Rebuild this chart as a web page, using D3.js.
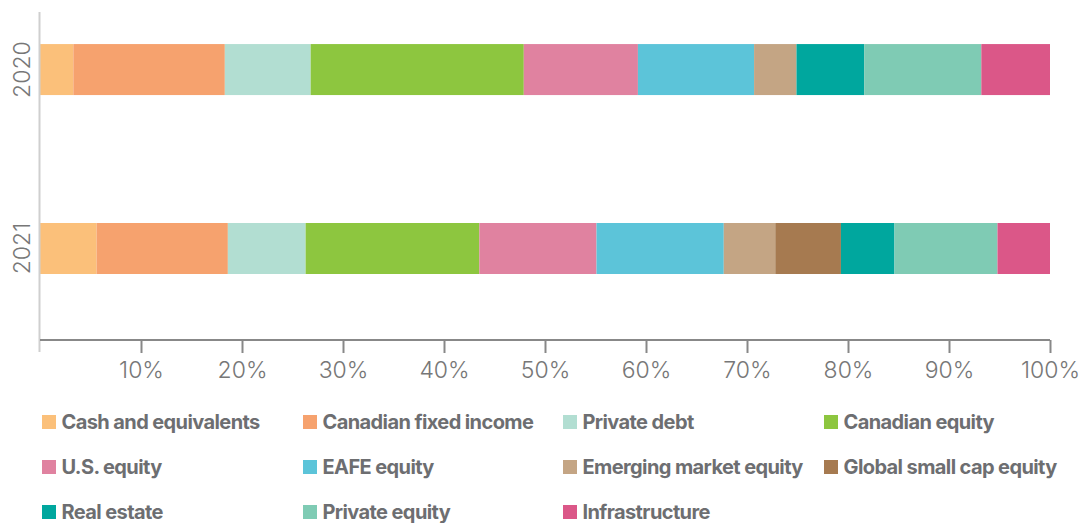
<!DOCTYPE html>
<html>
<head>
<meta charset="utf-8">
<script src="https://cdn.jsdelivr.net/npm/d3@7"></script>
<style>
  body { margin: 0; background: #fff; }
  svg { display: block; }
  .tick text { font-family: Inter, Roboto, sans-serif; font-weight: 300; }
</style>
</head>
<body>
<div id="chart"></div>
<script>
const years = ["2020", "2021"];
const assetClasses = ["Cash and equivalents", "Canadian fixed income", "Private debt", "Canadian equity",
  "U.S. equity", "EAFE equity", "Emerging market equity", "Global small cap equity",
  "Real estate", "Private equity", "Infrastructure"];
const values2020 = [3.3, 15.0, 8.5, 21.1, 11.3, 11.5, 4.2, 0, 6.7, 11.6, 6.8];
const values2021 = [5.6, 13.0, 7.7, 17.2, 11.6, 12.6, 5.1, 6.5, 5.3, 10.2, 5.2];
const colors = ["#fbc07a", "#f6a26e", "#b2ded2", "#8dc63f", "#e082a0", "#5cc4d9",
  "#c4a584", "#a67a50", "#00a79e", "#7fcbb4", "#db5788"];
const xTicks = [10, 20, 30, 40, 50, 60, 70, 80, 90, 100];

const width = 1086, height = 523;
const svg = d3.select("#chart").append("svg").attr("width", width).attr("height", height);

const x = d3.scaleLinear().domain([0, 100]).range([40, 1050]);
const y = d3.scaleBand().domain(years).range([12, 340])
  .paddingInner(0.715).paddingOuter(0.274).align(0.327);
const color = d3.scaleOrdinal().domain(assetClasses).range(colors);

// build rows for stacking
const rows = years.map((yr, i) => {
  const vals = i === 0 ? values2020 : values2021;
  const row = { year: yr };
  assetClasses.forEach((a, j) => row[a] = vals[j]);
  return row;
});
const series = d3.stack().keys(assetClasses)(rows);

svg.append("g").selectAll("g").data(series).join("g")
  .attr("fill", d => color(d.key))
  .selectAll("rect").data(d => d).join("rect")
  .attr("x", d => x(d[0]))
  .attr("y", d => y(d.data.year))
  .attr("width", d => x(d[1]) - x(d[0]))
  .attr("height", y.bandwidth());

// y axis line
svg.append("line")
  .attr("x1", 39.5).attr("x2", 39.5).attr("y1", 12).attr("y2", 352)
  .attr("stroke", "#cfcfcf").attr("stroke-width", 2);

// year labels
svg.append("g").selectAll("text").data(years).join("text")
  .attr("transform", d => `translate(30,${y(d) + y.bandwidth() / 2}) rotate(-90)`)
  .attr("text-anchor", "middle")
  .attr("font-family", "Inter, Roboto, sans-serif")
  .attr("font-weight", 300)
  .attr("font-size", 23)
  .attr("fill", "#777")
  .text(d => d);

// x axis
const xAxis = svg.append("g").attr("transform", "translate(0,340)")
  .call(d3.axisBottom(x).tickValues(xTicks).tickFormat(d => d + "%").tickSize(13).tickSizeOuter(0));
xAxis.select(".domain").attr("stroke", "#888").attr("stroke-width", 2)
  .attr("d", `M${x(0)},0H${x(100)}`);
xAxis.selectAll(".tick line").attr("stroke", "#888").attr("stroke-width", 2);
xAxis.selectAll(".tick text").attr("fill", "#777").attr("font-size", 23).attr("dy", "0.95em");

// legend
const colX = [42, 303, 563, 824];
const rowY = [422, 467, 512];
const legend = svg.append("g").selectAll("g").data(assetClasses).join("g")
  .attr("transform", (d, i) => `translate(${colX[i % 4]},${rowY[Math.floor(i / 4)]})`);
legend.append("rect").attr("x", 0).attr("y", -7).attr("width", 14).attr("height", 14)
  .attr("fill", d => color(d));
legend.append("text").attr("x", 19.5).attr("y", 0).attr("dy", "0.36em")
  .attr("font-family", "Inter, Roboto, sans-serif")
  .attr("font-weight", 700)
  .attr("font-size", 20)
  .attr("letter-spacing", "-0.6px")
  .attr("fill", "#6d6e71")
  .text(d => d);
</script>
</body>
</html>
